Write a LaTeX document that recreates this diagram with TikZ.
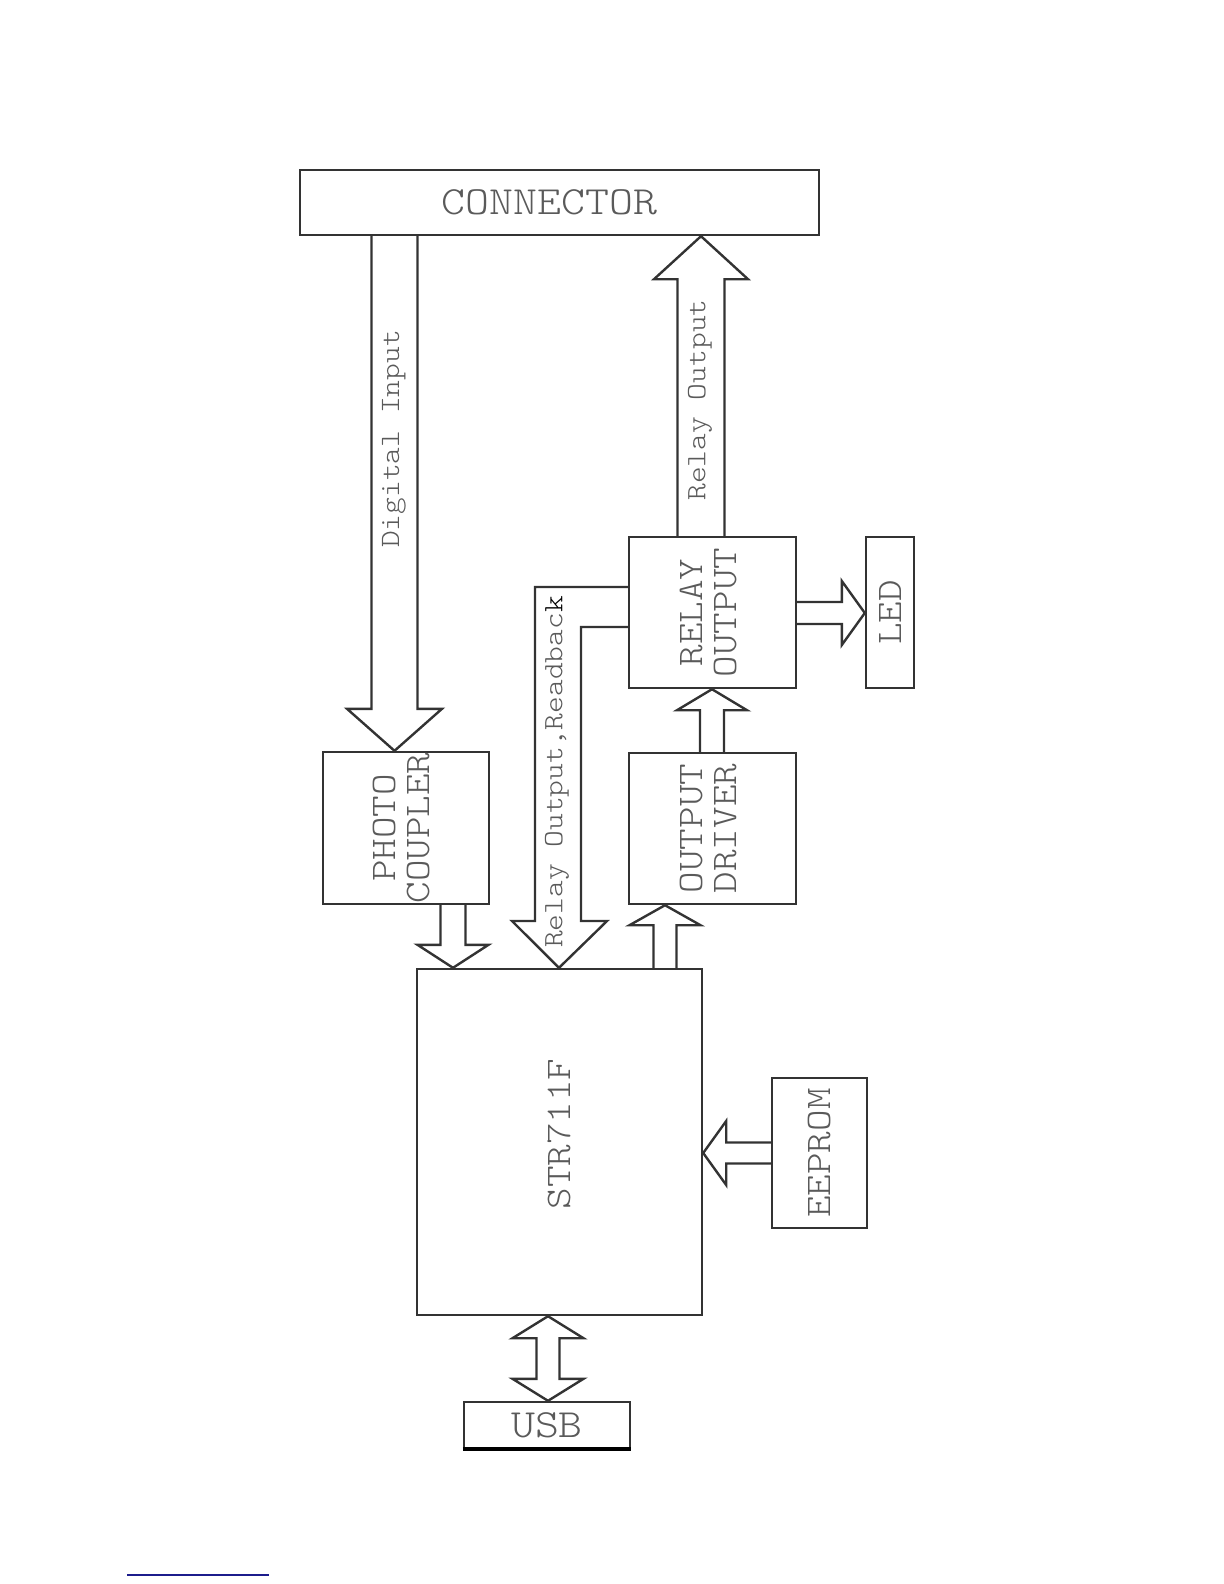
\documentclass[tikz,border=0pt]{standalone}
\usepackage{fontspec}
\usetikzlibrary{calc}
\newfontfamily\diafont{lmmonolt10-regular}[Extension=.otf,FakeStretch=1.14]
\definecolor{inkline}{HTML}{333333}
\definecolor{inktext}{HTML}{5A5A5A}
\definecolor{footblue}{HTML}{1C1C8C}

\tikzset{
  blk/.style={draw=inkline,line width=1.2pt,rectangle,inner sep=0pt,text=inktext,
    font=\diafont\fontsize{18}{17}\selectfont,align=center},
  bigblk/.style={blk,font=\diafont\fontsize{20}{17}\selectfont},
  lbl/.style={text=inktext,font=\diafont\fontsize{14}{16}\selectfont,rotate=90,inner sep=0pt},
  barrowline/.style={draw=inkline,line width=1.2pt,line join=miter},
}

% block arrow: base, tip, shaft half width, head half width, head length
\newcommand{\blockarrow}[5]{%
  \coordinate (ba-neck) at ($(#2)!#5!(#1)$);
  \draw[barrowline] ($(#1)!#3!90:(#2)$) -- ($(ba-neck)!#3!90:(#2)$) -- ($(ba-neck)!#4!90:(#2)$)
    -- (#2) -- ($(ba-neck)!#4!-90:(#2)$) -- ($(ba-neck)!#3!-90:(#2)$) -- ($(#1)!#3!-90:(#2)$);
}
% double block arrow: tip, tip, shaft half width, head half width, head length
\newcommand{\dblarrow}[5]{%
  \coordinate (da-na) at ($(#1)!#5!(#2)$);
  \coordinate (da-nb) at ($(#2)!#5!(#1)$);
  \draw[barrowline] (#1) -- ($(da-na)!#4!90:(#2)$) -- ($(da-na)!#3!90:(#2)$) -- ($(da-nb)!#3!90:(#2)$)
    -- ($(da-nb)!#4!90:(#2)$) -- (#2) -- ($(da-nb)!#4!-90:(#2)$) -- ($(da-nb)!#3!-90:(#2)$)
    -- ($(da-na)!#3!-90:(#2)$) -- ($(da-na)!#4!-90:(#2)$) -- cycle;
}

\begin{document}
\begin{tikzpicture}[x=0.5pt,y=-0.5pt]
\useasboundingbox (0,0) rectangle (1224,1584);

% blocks
\node[bigblk,minimum width=259.5pt,minimum height=32.5pt] (conn) at (559.5,202.5) {\hspace*{-10pt}CONNECTOR};
\node[blk,minimum width=83pt,minimum height=76pt] (photo) at (406,828) {\rotatebox{90}{\begin{tabular}{@{}c@{}}PHOTO\\COUPLER\end{tabular}}};
\node[blk,minimum width=83.5pt,minimum height=75.5pt] (relay) at (712.5,612.5) {\rotatebox{90}{\begin{tabular}{@{}c@{}}RELAY\\OUTPUT\end{tabular}}};
\node[blk,minimum width=83.5pt,minimum height=75.5pt] (od) at (712.5,828.5) {\rotatebox{90}{\begin{tabular}{@{}c@{}}OUTPUT\\DRIVER\end{tabular}}};
\node[blk,minimum width=24pt,minimum height=75.5pt] (led) at (890,612.5) {\rotatebox{90}{LED}};
\node[blk,minimum width=142.5pt,minimum height=173pt] (str) at (559.5,1142) {\rotatebox{90}{\hspace*{8pt}STR711F}};
\node[blk,minimum width=47.5pt,minimum height=75pt] (eeprom) at (819.5,1153) {\rotatebox{90}{EEPROM}};
\node[bigblk,minimum width=83pt,minimum height=23pt] (usb) at (547,1425) {USB};
\draw[black,line width=2pt] (usb.south west) -- (usb.south east);

% block arrows
\coordinate (di-top) at (394.5,0 |- conn.south);
\coordinate (di-tip) at (394.5,0 |- photo.north);
\blockarrow{di-top}{di-tip}{11.5pt}{23.75pt}{21pt}
\coordinate (ro-base) at (701,0 |- relay.north);
\coordinate (ro-tip) at (701,0 |- conn.south);
\blockarrow{ro-base}{ro-tip}{11.75pt}{23.5pt}{21.5pt}
\coordinate (pc-base) at (453,0 |- photo.south);
\coordinate (pc-tip) at (453,0 |- str.north);
\blockarrow{pc-base}{pc-tip}{6.25pt}{17.75pt}{11.5pt}
\coordinate (mc-base) at (665,0 |- str.north);
\coordinate (mc-tip) at (665,0 |- od.south);
\blockarrow{mc-base}{mc-tip}{5.75pt}{17.75pt}{10pt}
\coordinate (dr-base) at (712,0 |- od.north);
\coordinate (dr-tip) at (712,0 |- relay.south);
\blockarrow{dr-base}{dr-tip}{6pt}{17.5pt}{10.5pt}
\coordinate (led-base) at (relay.east |- 0,613);
\coordinate (led-tip) at (led.west |- 0,613);
\blockarrow{led-base}{led-tip}{5.5pt}{16pt}{11.5pt}
\coordinate (ee-tip) at (str.east |- eeprom.west);
\blockarrow{eeprom.west}{ee-tip}{5.25pt}{16pt}{11.5pt}
\coordinate (usb-a) at (548,0 |- str.south);
\coordinate (usb-b) at (548,0 |- usb.north);
\dblarrow{usb-a}{usb-b}{5.75pt}{17.75pt}{11pt}

% readback arrow
\coordinate (rb-tip) at (559,0 |- str.north);
\draw[barrowline] (relay.west |- 0,587) -- (535,587) -- (535,921) -- (512,921) -- (rb-tip)
  -- (607,921) -- (581,921) -- (581,627) -- (relay.west |- 0,627);

% arrow labels
\node[lbl] (dilbl) at (394,439) {Digital Input};
\node[lbl] (rolbl) at (700,400) {Relay Output};
\node[lbl] (rblbl) at (557,772) {Relay Output,Readbac{\color{black}k}};

\draw[footblue,line width=0.8pt] (127,1575) -- (269,1575);
\end{tikzpicture}
\end{document}
